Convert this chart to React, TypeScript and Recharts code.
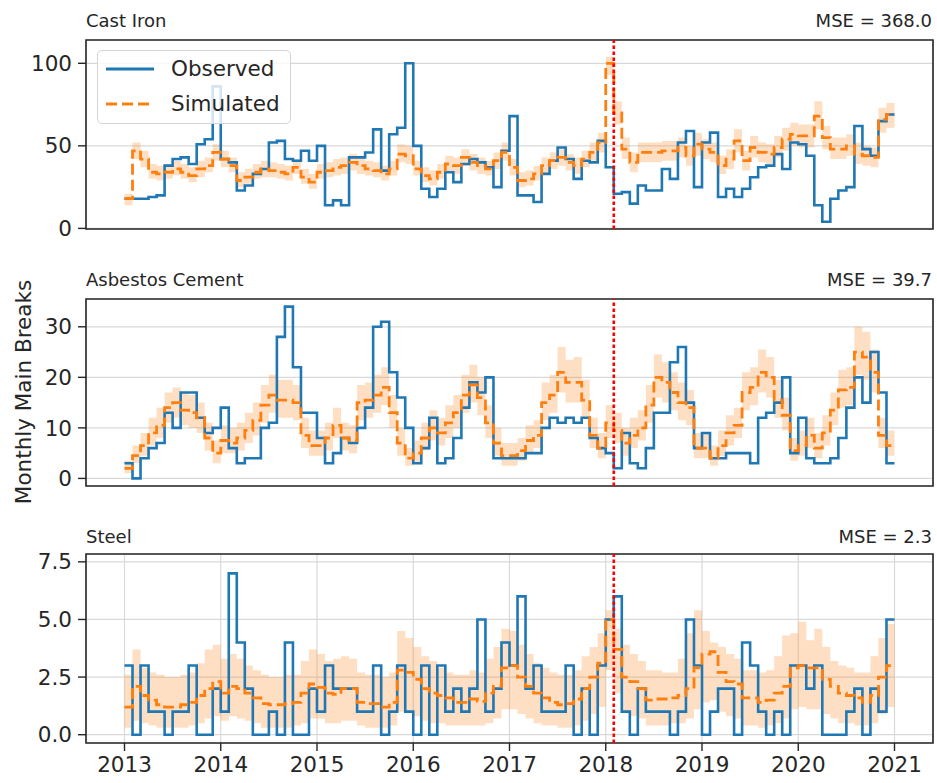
import React from "react";
import {
  ComposedChart,
  Line,
  Area,
  XAxis,
  YAxis,
  CartesianGrid,
  ReferenceLine,
  ReferenceArea,
} from "recharts";

// monthly series, Jan 2013 .. Dec 2020
const START_YEAR = 2013;
const YEARS = [2013, 2014, 2015, 2016, 2017, 2018, 2019, 2020, 2021];
const SPLIT_DATE = 2018 + 1 / 12; // calibration / validation split
const X_DOMAIN = [2012.6, 2021.4];

const CAST_IRON_OBSERVED = [
  18, 18, 18, 19, 20, 38, 42, 43, 39, 51, 54, 86,
  42, 40, 23, 26, 33, 36, 52, 53, 42, 41, 47, 41,
  50, 14, 17, 14, 43, 43, 46, 60, 35, 57, 61, 100,
  50, 24, 19, 24, 34, 28, 39, 42, 40, 37, 25, 47,
  68, 20, 20, 16, 33, 41, 49, 42, 30, 41, 40, 53,
  37, 21, 22, 15, 26, 23, 23, 36, 30, 52, 59, 25,
  52, 58, 19, 24, 19, 24, 31, 37, 38, 45, 36, 52,
  51, 44, 14, 4, 18, 23, 25, 62, 48, 44, 65, 69,
];
const CAST_IRON_SIMULATED = [
  18, 47, 42, 34, 33, 34, 36, 34, 32, 36, 38, 46,
  42, 38, 29, 31, 34, 36, 35, 34, 33, 37, 31, 28,
  34, 35, 37, 38, 40, 38, 36, 35, 33, 36, 45, 44,
  36, 32, 30, 34, 39, 38, 43, 40, 38, 36, 41, 46,
  37, 29, 30, 33, 38, 41, 43, 40, 38, 42, 46, 52,
  100, 70, 48, 40, 46, 46, 46, 47, 47, 49, 44, 51,
  48, 46, 38, 42, 53, 41, 49, 46, 45, 49, 54, 57,
  56, 56, 68, 55, 48, 48, 50, 45, 44, 43, 66, 69,
];
const CAST_IRON_LOW = [
  14, 42, 37, 30, 29, 30, 32, 30, 28, 31, 34, 41,
  37, 34, 25, 27, 30, 31, 31, 30, 29, 33, 27, 24,
  30, 31, 32, 33, 35, 33, 32, 31, 29, 32, 40, 39,
  32, 28, 26, 30, 34, 33, 38, 35, 33, 32, 36, 41,
  32, 25, 26, 29, 33, 36, 38, 35, 33, 37, 41, 46,
  93, 63, 42, 34, 40, 40, 40, 41, 41, 43, 38, 44,
  42, 40, 33, 36, 46, 35, 43, 40, 39, 43, 47, 50,
  49, 49, 60, 48, 42, 42, 44, 39, 38, 37, 58, 61,
];
const CAST_IRON_HIGH = [
  21, 52, 47, 39, 38, 39, 41, 39, 37, 41, 43, 51,
  47, 43, 34, 36, 39, 41, 40, 39, 38, 42, 36, 33,
  39, 40, 42, 43, 45, 43, 41, 40, 38, 41, 51, 50,
  41, 37, 35, 39, 44, 43, 48, 45, 43, 41, 46, 52,
  42, 34, 35, 38, 43, 46, 48, 45, 43, 47, 52, 58,
  104, 77, 55, 46, 52, 52, 52, 53, 53, 55, 50, 58,
  54, 52, 44, 48, 60, 47, 56, 52, 51, 56, 61, 64,
  63, 63, 77, 62, 55, 55, 57, 52, 50, 49, 73, 76,
];

const ASBESTOS_OBSERVED = [
  3, 0, 4, 6, 7, 13, 10, 17, 17, 12, 9, 10,
  14, 6, 3, 4, 4, 10, 11, 28, 34, 22, 13, 13,
  8, 3, 5, 8, 7, 10, 14, 30, 31, 21, 16, 10,
  3, 6, 12, 3, 4, 8, 14, 19, 17, 20, 4, 4,
  4, 4, 5, 5, 10, 12, 11, 12, 11, 12, 8, 6,
  5, 2, 9, 3, 2, 6, 13, 13, 23, 26, 15, 6,
  9, 4, 4, 5, 5, 5, 3, 12, 13, 15, 20, 5,
  12, 4, 3, 3, 4, 8, 14, 20, 15, 25, 17, 3,
];
const ASBESTOS_SIMULATED = [
  2, 4.5, 6.5, 9, 10.5, 14, 15, 13.5, 13, 12, 8, 5,
  7.5, 7, 8, 9.5, 11.5, 14.5, 16.5, 15.5, 15.5, 15, 8.5, 6.5,
  6.5, 8, 10.5, 8, 7.5, 15, 15.5, 16.5, 18, 13, 7, 4,
  5, 8, 10, 9, 11, 13, 16.5, 18.5, 16, 11, 7, 4.5,
  4.5, 5.5, 7.5, 8.5, 15, 16.5, 21, 19, 19, 15.5, 8.5, 6,
  11, 9.5, 7, 8.5, 10, 14.5, 20, 19, 17, 15, 14, 6,
  6, 4, 6.5, 9, 10.5, 17, 18, 21, 20, 15.5, 12.5, 5.5,
  6.5, 8.5, 6, 9, 13.5, 17.5, 18, 25, 24, 21, 8.5, 6.5,
];
const ASBESTOS_LOW = [
  1, 3, 4.5, 6.5, 8, 11, 12, 10.5, 10, 9, 5.5, 3,
  5, 5, 5.5, 7, 8.5, 11, 13, 12, 12, 11.5, 6, 4.5,
  4.5, 5.5, 8, 5.5, 5, 11.5, 12, 13, 14.5, 10, 4.5, 2.5,
  3, 5.5, 7.5, 6.5, 8, 10, 13, 15, 12.5, 8, 4.5, 2.5,
  2.5, 3.5, 5, 6, 11.5, 13, 17, 15, 15, 12, 6, 4,
  8, 7, 4.5, 6, 7.5, 11, 16, 15, 13.5, 11.5, 10.5, 4,
  4, 2.5, 4.5, 6.5, 8, 13.5, 14.5, 17, 16, 12, 9.5, 3.5,
  4.5, 6, 4, 6.5, 10.5, 14, 14.5, 20.5, 19.5, 17, 6, 4.5,
];
const ASBESTOS_HIGH = [
  3.5, 6.5, 9, 12, 14, 17, 18, 17, 16.5, 15, 11, 7.5,
  10.5, 10, 11, 13, 15, 18.5, 20.5, 19.5, 19.5, 18.5, 12, 9.5,
  9.5, 11, 14, 11, 10.5, 18.5, 19, 20.5, 22, 16.5, 10, 6,
  7.5, 11, 13.5, 12, 14.5, 16.5, 20.5, 22.5, 20, 14.5, 10, 7,
  7, 8, 10.5, 11.5, 19, 20.5, 26, 23.5, 24, 19.5, 12, 9,
  14.5, 13, 10, 12, 13.5, 18.5, 24.5, 23, 21, 19, 17.5, 9,
  9, 6.5, 9.5, 12.5, 14, 21, 22, 25.5, 24, 19.5, 16, 8,
  9.5, 12, 9, 12.5, 17, 21.5, 22, 30, 29, 25.5, 12, 9.5,
];

const STEEL_OBSERVED = [
  3, 0, 3, 1, 1, 0, 1, 1, 3, 0, 0, 2,
  1, 7, 4, 2, 0, 0, 1, 0, 4, 0, 0, 2,
  1, 3, 2, 2, 2, 1, 1, 3, 0, 1, 3, 1,
  0, 3, 0, 3, 1, 2, 1, 2, 5, 1, 2, 4,
  3, 6, 2, 3, 1, 1, 1, 3, 0, 2, 0, 3,
  5, 6, 1, 0, 2, 1, 1, 1, 0, 1, 5, 3,
  0, 1, 2, 2, 0, 4, 3, 1, 0, 1, 0, 3,
  3, 2, 3, 0, 0, 0, 1, 2, 0, 2, 1, 5,
];
const STEEL_SIMULATED = [
  1.2, 2.1, 1.7, 1.5, 1.3, 1.2, 1.2, 1.3, 1.4, 1.7, 2.0, 2.3,
  1.8, 2.1, 2.0, 1.8, 1.6, 1.35, 1.3, 1.3, 1.35, 1.4, 1.8, 2.2,
  2.05, 1.8, 1.75, 2.0, 2.0, 1.4, 1.35, 1.35, 1.2, 1.4, 2.8, 2.7,
  2.4, 2.0, 1.8, 1.7, 1.6, 1.4, 1.4, 1.55, 1.45, 1.8, 2.1, 2.9,
  3.0, 2.5, 2.1, 1.8, 1.6, 1.4, 1.3, 1.35, 1.55, 2.0, 2.5, 3.1,
  5.0, 3.7, 2.5, 2.3, 2.0, 1.5, 1.55, 1.55, 1.6, 1.7, 2.0, 2.9,
  3.5, 3.6, 2.7, 2.3, 2.2, 1.6, 1.6, 1.4, 1.5, 1.8, 2.1, 2.9,
  3.0, 2.9, 2.9, 2.4, 2.1, 1.8, 1.7, 1.6, 1.4, 1.7, 2.5, 3.0,
];
const STEEL_LOW = [
  0.3, 0.6, 0.5, 0.4, 0.3, 0.3, 0.3, 0.3, 0.4, 0.5, 0.7, 0.8,
  0.6, 0.8, 0.7, 0.6, 0.5, 0.3, 0.3, 0.3, 0.3, 0.4, 0.5, 0.7,
  0.7, 0.5, 0.5, 0.6, 0.6, 0.4, 0.3, 0.3, 0.3, 0.4, 1.0, 1.0,
  0.8, 0.6, 0.5, 0.5, 0.4, 0.4, 0.4, 0.4, 0.4, 0.5, 0.7, 1.1,
  1.1, 0.9, 0.7, 0.5, 0.4, 0.4, 0.3, 0.3, 0.4, 0.6, 0.9, 1.2,
  2.8, 1.8, 1.0, 0.8, 0.7, 0.4, 0.4, 0.4, 0.5, 0.5, 0.7, 1.1,
  1.4, 1.5, 1.0, 0.8, 0.7, 0.4, 0.4, 0.3, 0.4, 0.5, 0.7, 1.1,
  1.2, 1.1, 1.1, 0.9, 0.7, 0.5, 0.5, 0.4, 0.4, 0.5, 0.9, 1.2,
];
const STEEL_HIGH = [
  2.6, 3.7, 2.9, 2.7, 2.6, 2.5, 2.5, 2.6, 2.7, 3.1, 3.7, 3.9,
  3.3, 3.5, 3.3, 3.0, 2.8, 2.6, 2.5, 2.5, 2.6, 2.6, 3.2, 3.7,
  3.5, 3.2, 3.3, 3.4, 3.3, 2.7, 2.6, 2.6, 2.5, 2.7, 4.5, 4.2,
  3.8, 3.4, 3.2, 2.9, 2.7, 2.6, 2.6, 2.8, 2.7, 3.3, 3.8, 4.6,
  4.5, 3.9, 3.5, 3.1, 2.9, 2.7, 2.6, 2.6, 2.8, 3.4, 3.8, 4.4,
  5.4, 4.6, 3.9, 3.5, 3.2, 2.8, 2.8, 2.7, 2.7, 3.3, 4.4, 5.4,
  4.5, 4.0, 3.8, 3.5, 3.3, 2.8, 2.8, 2.7, 2.8, 3.4, 4.3, 4.4,
  4.9, 4.1, 4.6, 3.8, 3.2, 3.0, 2.9, 2.7, 2.7, 3.4, 4.2, 4.8,
];

const BLUE = "#1f77b4";
const ORANGE = "#ff7f0e";
const INK = "#262626";
const FONT = "'DejaVu Sans', sans-serif";
const PAD = 14; // room above / below each plot so tick labels are not clipped

// one row per month, plus a closing row at 2021 so the last step has width
function buildRows(obs: number[], sim: number[], lo: number[], hi: number[]) {
  const rows = obs.map((o, i) => ({
    t: START_YEAR + i / 12,
    obs: o,
    sim: sim[i],
    band: [lo[i], hi[i]],
  }));
  const n = obs.length - 1;
  rows.push({ t: START_YEAR + obs.length / 12, obs: obs[n], sim: sim[n], band: [lo[n], hi[n]] });
  return rows;
}

const PANELS = [
  {
    title: "Cast Iron",
    mse: "MSE = 368.0",
    top: 40,
    height: 189,
    domain: [-0.36, 114.1],
    ticks: [0, 50, 100],
    fmt: (v: number) => String(v),
    rows: buildRows(CAST_IRON_OBSERVED, CAST_IRON_SIMULATED, CAST_IRON_LOW, CAST_IRON_HIGH),
  },
  {
    title: "Asbestos Cement",
    mse: "MSE = 39.7",
    top: 299,
    height: 187,
    domain: [-1.5, 35.5],
    ticks: [0, 10, 20, 30],
    fmt: (v: number) => String(v),
    rows: buildRows(ASBESTOS_OBSERVED, ASBESTOS_SIMULATED, ASBESTOS_LOW, ASBESTOS_HIGH),
  },
  {
    title: "Steel",
    mse: "MSE = 2.3",
    top: 554,
    height: 189,
    domain: [-0.36, 7.84],
    ticks: [0, 2.5, 5, 7.5],
    fmt: (v: number) => v.toFixed(1),
    rows: buildRows(STEEL_OBSERVED, STEEL_SIMULATED, STEEL_LOW, STEEL_HIGH),
  },
];

function Panel({ p, last }: { p: (typeof PANELS)[number]; last: boolean }) {
  const axisH = last ? 38 : 20;
  return (
    <div style={{ position: "absolute", left: 0, top: p.top - PAD }}>
      <ComposedChart
        width={937}
        height={p.height + PAD + axisH}
        data={p.rows}
        margin={{ top: PAD, right: 4, bottom: 0, left: 0 }}
        style={{ overflow: "visible" }}
      >
        <CartesianGrid stroke="#d9d9d9" strokeWidth={1.2} />
        <XAxis
          type="number"
          dataKey="t"
          domain={X_DOMAIN}
          ticks={YEARS}
          interval={0}
          allowDataOverflow
          height={axisH}
          axisLine={false}
          tickSize={8}
          tickMargin={6}
          tickLine={{ stroke: INK, strokeWidth: 1.4 }}
          tick={last ? { fontSize: 21.5, fill: INK, fontFamily: FONT } : false}
        />
        <YAxis
          type="number"
          domain={p.domain}
          ticks={p.ticks}
          interval={0}
          allowDataOverflow
          width={86}
          axisLine={false}
          tickSize={8}
          tickMargin={6}
          tickLine={{ stroke: INK, strokeWidth: 1.4 }}
          tick={{ fontSize: 21.5, fill: INK, fontFamily: FONT }}
          tickFormatter={p.fmt}
        />
        <Area
          dataKey="band"
          type="stepAfter"
          fill={ORANGE}
          fillOpacity={0.25}
          stroke="none"
          activeDot={false}
          isAnimationActive={false}
        />
        <Line
          dataKey="obs"
          type="stepAfter"
          stroke={BLUE}
          strokeWidth={2.6}
          dot={false}
          activeDot={false}
          isAnimationActive={false}
        />
        <Line
          dataKey="sim"
          type="stepAfter"
          stroke={ORANGE}
          strokeWidth={2.8}
          strokeDasharray="11 5"
          dot={false}
          activeDot={false}
          isAnimationActive={false}
        />
        <ReferenceLine x={SPLIT_DATE} stroke="#f00" strokeWidth={2.6} strokeDasharray="3.5 2.5" />
        <ReferenceArea
          x1={X_DOMAIN[0]}
          x2={X_DOMAIN[1]}
          y1={p.domain[0]}
          y2={p.domain[1]}
          fill="none"
          fillOpacity={0}
          stroke={INK}
          strokeWidth={1.6}
        />
      </ComposedChart>
    </div>
  );
}

function LegendBox() {
  const row = (label: string, color: string, dash: string | undefined, y: number) => (
    <div style={{ position: "absolute", left: 0, top: y - 14, height: 28, width: "100%" }}>
      <svg width={60} height={28} style={{ position: "absolute", left: 0, top: 0 }}>
        <line x1={8} x2={56} y1={14} y2={14} stroke={color} strokeWidth={2.8} strokeDasharray={dash} />
      </svg>
      <span style={{ position: "absolute", left: 73, top: 0, lineHeight: "28px", fontSize: 21.5, color: INK }}>
        {label}
      </span>
    </div>
  );
  return (
    <div
      style={{
        position: "absolute",
        left: 97,
        top: 50,
        width: 194,
        height: 74,
        boxSizing: "border-box",
        border: "1px solid #d4d4d4",
        borderRadius: 5,
        background: "rgba(255,255,255,0.8)",
        fontFamily: FONT,
      }}
    >
      {row("Observed", BLUE, undefined, 18)}
      {row("Simulated", ORANGE, "11 5", 53)}
    </div>
  );
}

export default function App() {
  const baselines = [27, 286, 543];
  return (
    <div
      style={{
        position: "absolute",
        left: 0,
        top: 0,
        width: 937,
        height: 783,
        background: "#fff",
        fontFamily: FONT,
        overflow: "hidden",
      }}
    >
      {PANELS.map((p, i) => (
        <Panel key={p.title} p={p} last={i === PANELS.length - 1} />
      ))}
      <svg width={937} height={783} style={{ position: "absolute", left: 0, top: 0, pointerEvents: "none" }}>
        {PANELS.map((p, i) => (
          <g key={p.title} fontFamily={FONT} fontSize={18} fill={INK}>
            <text x={86} y={baselines[i]}>{p.title}</text>
            <text x={932} y={baselines[i]} textAnchor="end">{p.mse}</text>
          </g>
        ))}
        <text
          transform="translate(31, 392) rotate(-90)"
          textAnchor="middle"
          fontFamily={FONT}
          fontSize={21.5}
          fill={INK}
        >
          Monthly Main Breaks
        </text>
      </svg>
      <LegendBox />
    </div>
  );
}
